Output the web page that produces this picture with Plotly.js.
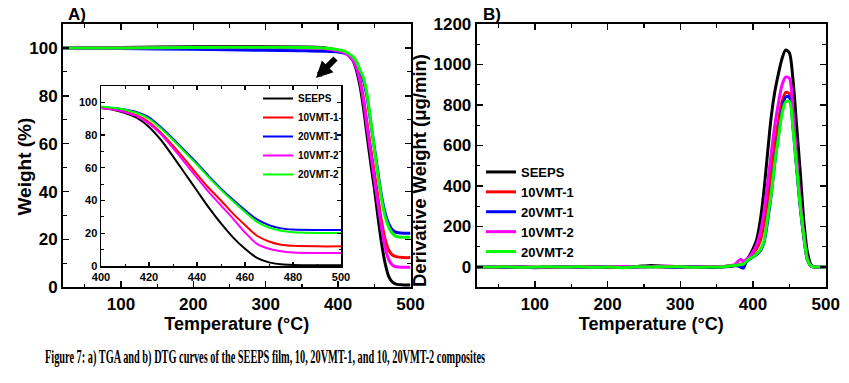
<!DOCTYPE html>
<html>
<head>
<meta charset="utf-8">
<script src="https://cdn.plot.ly/plotly-3.0.1.min.js"></script>
<style>
  html, body { margin: 0; padding: 0; background: #fff; }
  #wrap { position: relative; width: 849px; height: 383px; overflow: hidden; }
  #chart { position: absolute; left: 0; top: 0; width: 849px; height: 383px; }
  #caption { position: absolute; left: 45px; top: 347px; white-space: nowrap;
    font-family: "Liberation Serif", "Times New Roman", serif; font-weight: bold; font-size: 18px;
    transform-origin: 0 0; color: #000; }
</style>
</head>
<body>
<div id="wrap">
  <div id="chart"></div>
  <div id="caption">Figure 7: a) TGA and b) DTG curves of the SEEPS film, 10, 20VMT-1, and 10, 20VMT-2 composites</div>
</div>
<script>
// ---------- DATA ----------
var seriesNames = ["SEEPS", "10VMT-1", "20VMT-1", "10VMT-2", "20VMT-2"];
var seriesColors = ["#000000", "#ff0000", "#0000ff", "#ff00ff", "#00ff00"];

// Panel A (main TGA)
var tempMain = [20, 100, 200, 300, 350, 380, 400, 410, 420, 425, 430, 435, 440, 445, 450, 455, 460, 465, 470, 475, 480, 490, 500];
var tgaSEEPS   = [100, 100.2, 100.5, 100.6, 100.4, 100.1, 99.0, 98.0, 95.0, 91.0, 84.5, 75.0, 63.5, 52.0, 41.5, 29.5, 18.5, 10.0, 4.5, 2.2, 1.3, 1.0, 1.0];
var tga10VMT1  = [100, 100.0, 100.2, 100.3, 100.1, 99.8, 99.0, 98.0, 95.5, 92.5, 87.0, 79.0, 68.5, 58.0, 48.0, 37.5, 27.5, 20.0, 15.5, 13.5, 12.8, 12.4, 12.4];
var tga20VMT1  = [100, 99.8, 99.4, 99.0, 98.8, 98.6, 98.3, 97.7, 96.0, 94.0, 90.5, 86.5, 79.5, 69.0, 58.5, 48.0, 38.0, 31.0, 26.5, 24.0, 23.0, 22.6, 22.6];
var tga10VMT2  = [100, 100.0, 100.2, 100.3, 100.1, 99.8, 98.8, 97.8, 95.0, 92.0, 86.5, 78.0, 67.0, 56.0, 45.5, 35.0, 25.0, 16.5, 11.5, 9.3, 8.6, 8.4, 8.4];
var tga20VMT2  = [100, 100.0, 100.2, 100.3, 100.2, 100.0, 99.3, 98.5, 96.5, 94.5, 91.0, 87.5, 80.5, 69.5, 58.0, 47.0, 37.0, 29.5, 25.0, 22.5, 21.3, 20.9, 20.9];

// Panel A inset (zoomed TGA)
var tempInset = [400, 405, 410, 415, 420, 425, 430, 435, 440, 445, 450, 455, 460, 465, 470, 475, 480, 490, 500];
var insSEEPS   = [96.5, 95.5, 93.5, 90.5, 85.0, 77.0, 67.0, 56.5, 46.0, 35.5, 26.0, 17.5, 10.5, 5.0, 2.2, 1.0, 0.6, 0.4, 0.4];
var ins10VMT1  = [96.5, 95.8, 94.5, 92.0, 88.0, 81.5, 73.5, 65.0, 56.0, 47.5, 40.0, 32.0, 25.0, 18.5, 15.0, 13.0, 12.3, 12.0, 12.0];
var ins20VMT1  = [97.0, 96.5, 95.6, 94.0, 90.8, 84.8, 77.8, 70.3, 62.8, 54.8, 47.3, 40.5, 34.2, 28.5, 25.0, 23.0, 22.3, 22.0, 22.0];
var ins10VMT2  = [96.5, 95.6, 94.0, 91.5, 87.0, 80.5, 72.0, 63.0, 54.0, 45.0, 37.0, 29.0, 20.5, 13.5, 10.5, 9.0, 8.3, 8.0, 8.0];
var ins20VMT2  = [97.5, 96.7, 95.5, 93.5, 90.0, 84.0, 77.0, 69.5, 62.0, 54.0, 46.5, 39.5, 33.0, 27.0, 23.5, 21.5, 20.6, 20.2, 20.2];

// Panel B (DTG)
var tempDTG = [20, 40, 60, 80, 100, 120, 140, 160, 180, 200, 220, 240, 260, 280, 300, 320, 340, 360,
               370, 375, 380, 383, 387, 390,
               395, 400, 405, 410, 415, 420, 425, 430, 435, 440, 445, 450, 455, 460, 465, 470, 475, 480, 485, 490, 495, 500];
var dtgSEEPS  = [0, -2, 1, 0, -3, 0, 2, 1, 0, -1, 0, 2, 8, 3, 0, 2, -2, 3,
                 6, 8, 10, 12, 15, 28,
                 55, 90, 135, 230, 375, 560, 740, 865, 955, 1030, 1072, 1058, 925, 700, 470, 225, 70, 10, 0, -2, 0, 0];
var dtg10VMT1 = [1, 0, -1, 2, 0, -2, 1, 0, 2, 0, -1, 1, 3, 0, 2, 0, 1, 2,
                 5, 7, 10, 14, 18, 30,
                 48, 65, 90, 130, 210, 330, 470, 610, 720, 815, 862, 855, 710, 500, 305, 150, 35, 5, 0, -1, 0, 0];
var dtg20VMT1 = [0, 1, -1, 0, -2, 1, 0, -1, 0, 1, -1, 0, 2, 0, -1, 1, 0, 1,
                 4, 6, 5, 0, -5, 20,
                 38, 50, 62, 80, 120, 225, 355, 515, 650, 775, 840, 838, 690, 490, 295, 145, 35, 5, 0, -1, 0, 0];
var dtg10VMT2 = [1, 0, 2, 0, -1, 1, 0, 2, 0, 1, 3, 0, 2, 5, 1, 0, 2, 3,
                 8, 12, 30, 38, 28, 35,
                 50, 75, 110, 170, 270, 410, 560, 700, 810, 900, 938, 932, 770, 545, 330, 160, 40, 5, 0, -1, 0, 0];
var dtg20VMT2 = [2, 0, 1, -1, 0, 1, 0, 1, -1, 0, -3, 1, 0, 2, 1, -1, 0, 2,
                 6, 8, 10, 12, 14, 25,
                 40, 50, 65, 85, 125, 240, 360, 515, 640, 760, 815, 818, 680, 490, 300, 150, 35, 5, 0, 0, 0, 0];

var xTickValsMain = [100, 200, 300, 400, 500];
var yTickValsA = [0, 20, 40, 60, 80, 100];
var xTickValsInset = [400, 420, 440, 460, 480, 500];
var yTickValsB = [0, 200, 400, 600, 800, 1000, 1200];

// ---------- TRACES ----------
var mainSeries = [tgaSEEPS, tga10VMT1, tga20VMT1, tga10VMT2, tga20VMT2];
var insetSeries = [insSEEPS, ins10VMT1, ins20VMT1, ins10VMT2, ins20VMT2];
var dtgSeries = [dtgSEEPS, dtg10VMT1, dtg20VMT1, dtg10VMT2, dtg20VMT2];

var traces = [];
for (var i = 0; i < seriesNames.length; i++) {
  traces.push({ x: tempMain, y: mainSeries[i], xaxis: 'x', yaxis: 'y', type: 'scatter', mode: 'lines',
    name: seriesNames[i], showlegend: false, line: { color: seriesColors[i], width: 3, shape: 'spline', smoothing: 0.8 } });
}
for (var i = 0; i < seriesNames.length; i++) {
  traces.push({ x: tempInset, y: insetSeries[i], xaxis: 'x3', yaxis: 'y3', type: 'scatter', mode: 'lines',
    name: seriesNames[i], legend: 'legend', showlegend: true, line: { color: seriesColors[i], width: 2, shape: 'spline', smoothing: 0.8 } });
}
for (var i = 0; i < seriesNames.length; i++) {
  traces.push({ x: tempDTG, y: dtgSeries[i], xaxis: 'x2', yaxis: 'y2', type: 'scatter', mode: 'lines',
    name: seriesNames[i], legend: 'legend2', showlegend: true, line: { color: seriesColors[i], width: 3, shape: 'spline', smoothing: 0.8 } });
}

// ---------- LAYOUT ----------
var FONT = 'Liberation Sans, Arial, sans-serif';
function axisBase(extra) {
  var a = {
    showline: true, linecolor: '#000', linewidth: 2, mirror: 'ticks',
    ticks: 'inside', ticklen: 6, tickwidth: 1.5, tickcolor: '#000',
    showgrid: false, zeroline: false, fixedrange: true,
    tickfont: { family: FONT, size: 17, color: '#000', weight: 'bold' }
  };
  for (var k in extra) a[k] = extra[k];
  return a;
}

var W = 849, H = 383;
function px(x) { return x / W; }
function py(y) { return 1 - y / H; }

var layout = {
  width: W, height: H,
  margin: { l: 0, r: 0, t: 0, b: 0 },
  paper_bgcolor: '#fff', plot_bgcolor: '#fff',
  font: { family: FONT, color: '#000' },
  xaxis: axisBase({ domain: [px(63), px(410.5)], anchor: 'y', range: [20, 500], tickvals: xTickValsMain,
    minor: { ticks: 'inside', ticklen: 3.5, tickwidth: 1.2, tickcolor: '#000', dtick: 50, tick0: 0 },
    title: { text: 'Temperature (°C)', font: { family: FONT, size: 18, weight: 'bold', color: '#000' }, standoff: 2 } }),
  yaxis: axisBase({ domain: [py(287.3), py(24)], anchor: 'x', range: [0, 110], tickvals: yTickValsA,
    minor: { ticks: 'inside', ticklen: 3.5, tickwidth: 1.2, tickcolor: '#000', dtick: 10, tick0: 0 } }),
  xaxis2: axisBase({ domain: [px(476.7), px(825.7)], anchor: 'y2', range: [20, 500], tickvals: xTickValsMain,
    minor: { ticks: 'inside', ticklen: 3.5, tickwidth: 1.2, tickcolor: '#000', dtick: 50, tick0: 0 },
    title: { text: 'Temperature (°C)', font: { family: FONT, size: 18, weight: 'bold', color: '#000' }, standoff: 2 } }),
  yaxis2: axisBase({ domain: [py(287.3), py(24)], anchor: 'x2', range: [-100, 1200], tickvals: yTickValsB,
    minor: { ticks: 'inside', ticklen: 3.5, tickwidth: 1.2, tickcolor: '#000', dtick: 100, tick0: 0 } }),
  xaxis3: axisBase({ domain: [px(101), px(341)], anchor: 'y3', range: [400, 500], tickvals: xTickValsInset,
    linewidth: 1.5, ticklen: 4, tickwidth: 1.2,
    tickfont: { family: FONT, size: 11, color: '#000', weight: 'bold' },
    minor: { ticks: 'inside', ticklen: 2.5, tickwidth: 1, tickcolor: '#000', dtick: 10, tick0: 0 } }),
  yaxis3: axisBase({ domain: [py(266), py(86)], anchor: 'x3', range: [0, 110], tickvals: yTickValsA,
    linewidth: 1.5, ticklen: 4, tickwidth: 1.2,
    tickfont: { family: FONT, size: 11, color: '#000', weight: 'bold' },
    minor: { ticks: 'inside', ticklen: 2.5, tickwidth: 1, tickcolor: '#000', dtick: 10, tick0: 0 } }),
  legend: {
    x: px(258), y: py(84), xanchor: 'left', yanchor: 'top', xref: 'paper', yref: 'paper',
    bgcolor: 'rgba(0,0,0,0)', borderwidth: 0, traceorder: 'normal', tracegroupgap: 0,
    font: { family: FONT, size: 10, color: '#000', weight: 'bold' }
  },
  legend2: {
    x: px(481), y: py(157), xanchor: 'left', yanchor: 'top', xref: 'paper', yref: 'paper',
    bgcolor: 'rgba(0,0,0,0)', borderwidth: 0, traceorder: 'normal', tracegroupgap: 0,
    font: { family: FONT, size: 13, color: '#000', weight: 'bold' }
  },
  annotations: [
    { text: 'A)', xref: 'paper', yref: 'paper', x: px(66), y: py(15), xanchor: 'left', yanchor: 'middle',
      showarrow: false, font: { family: FONT, size: 17, weight: 'bold', color: '#000' } },
    { text: 'B)', xref: 'paper', yref: 'paper', x: px(481), y: py(15), xanchor: 'left', yanchor: 'middle',
      showarrow: false, font: { family: FONT, size: 17, weight: 'bold', color: '#000' } },
    { text: 'Weight (%)', xref: 'paper', yref: 'paper', x: px(23.5), y: py(167), xanchor: 'center', yanchor: 'middle',
      textangle: -90, showarrow: false, font: { family: FONT, size: 19, weight: 'bold', color: '#000' } },
    { text: 'Derivative Weight (μg/min)', xref: 'paper', yref: 'paper', x: px(419), y: py(171), xanchor: 'center', yanchor: 'middle',
      textangle: -90, showarrow: false, font: { family: FONT, size: 18.5, weight: 'bold', color: '#000' } },
    { text: '', xref: 'paper', yref: 'paper', x: px(316), y: py(78), showarrow: true, standoff: 0, startstandoff: 0,
      ax: 21, ay: -21, arrowhead: 2, arrowsize: 0.55, arrowwidth: 6, arrowcolor: '#000' }
  ]
};

Plotly.newPlot('chart', traces, layout, { staticPlot: true, displayModeBar: false }).then(function () {
  var cap = document.getElementById('caption');
  var w = cap.getBoundingClientRect().width;
  var k = 440 / w;
  cap.style.transform = 'scaleX(' + k + ')';
});
</script>
</body>
</html>
